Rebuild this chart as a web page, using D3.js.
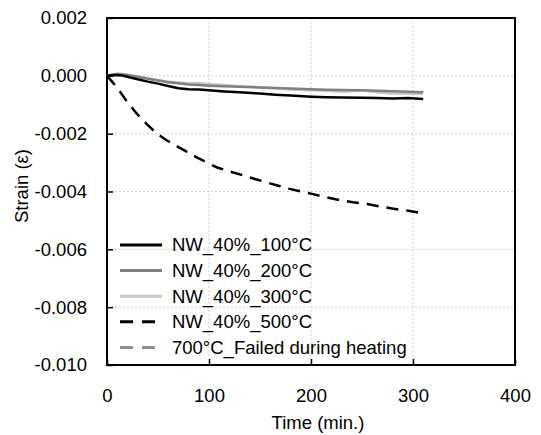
<!DOCTYPE html>
<html>
<head>
<meta charset="utf-8">
<script src="https://cdn.jsdelivr.net/npm/d3@7"></script>
<style>
  body { margin: 0; background: #fff; }
  svg text { font-family: "Liberation Sans", Arial, sans-serif; fill: #000; }
</style>
</head>
<body>
<svg id="chart" width="541" height="435"></svg>
<script>
// data (time in min., strain)
var time100 = [0, 5, 10, 15, 20, 30, 40, 50, 60, 70, 80, 90, 100, 115, 130, 150, 165, 180, 200, 215, 230, 250, 265, 280, 295, 310];
var strain100 = [0, 0.00002, 0.00003, 0.00001, -0.00003, -0.00012, -0.0002, -0.00027, -0.00035, -0.00043, -0.00046, -0.00047, -0.0005, -0.00054, -0.00057, -0.00061, -0.00065, -0.00068, -0.00072, -0.00074, -0.00075, -0.00076, -0.00077, -0.00078, -0.00077, -0.0008];

var time200 = [0, 5, 10, 15, 20, 30, 40, 50, 60, 70, 80, 90, 100, 115, 130, 150, 165, 180, 200, 215, 230, 250, 265, 280, 295, 310];
var strain200 = [0, 0.00004, 0.00006, 0.00005, 0.00003, -0.00003, -0.0001, -0.00016, -0.00022, -0.00026, -0.0003, -0.00032, -0.00034, -0.00036, -0.00038, -0.0004, -0.00042, -0.00044, -0.00046, -0.00048, -0.00049, -0.0005, -0.00052, -0.00053, -0.00055, -0.00057];

var time300 = [0, 5, 10, 15, 20, 30, 40, 50, 60, 70, 80, 90, 100, 115, 130, 150, 165, 180, 200, 215, 230, 250, 265, 280, 295, 310];
var strain300 = [0, 0.00005, 0.00007, 0.00006, 0.00004, -0.00002, -0.00008, -0.00014, -0.0002, -0.00023, -0.00026, -0.00025, -0.00028, -0.00032, -0.00036, -0.0004, -0.00043, -0.00047, -0.0005, -0.00052, -0.00055, -0.0005, -0.00058, -0.00061, -0.00062, -0.00063];

var time500 = [0, 5, 11, 19, 29, 39, 49, 58, 68, 78, 88, 98, 108, 120, 134, 145, 157, 168, 179, 190, 202, 215, 228, 241, 255, 268, 281, 294, 307, 312];
var strain500 = [0, -0.0002, -0.00046, -0.00086, -0.0013, -0.00167, -0.002, -0.00222, -0.00242, -0.00262, -0.00282, -0.003, -0.00317, -0.0033, -0.00345, -0.00357, -0.00369, -0.0038, -0.00391, -0.004, -0.00409, -0.0042, -0.0043, -0.00437, -0.00443, -0.00452, -0.0046, -0.00466, -0.00474, -0.00477];

var seriesNames = ["NW_40%_100°C", "NW_40%_200°C", "NW_40%_300°C", "NW_40%_500°C", "700°C_Failed during heating"];
var xTicks = [0, 100, 200, 300, 400];
var yTicks = [0.002, 0, -0.002, -0.004, -0.006, -0.008, -0.010];

var series = [
  {name: seriesNames[0], t: time100, s: strain100, color: "#000000", dash: null},
  {name: seriesNames[1], t: time200, s: strain200, color: "#808080", dash: null},
  {name: seriesNames[2], t: time300, s: strain300, color: "#c8c8c8", dash: null},
  {name: seriesNames[3], t: time500, s: strain500, color: "#000000", dash: "12,8"},
  {name: seriesNames[4], t: [], s: [], color: "#909090", dash: "12,8"}
];

var svg = d3.select("#chart");
var margin = {top: 18, right: 26, bottom: 70, left: 107};
var width = 541 - margin.left - margin.right,
    height = 435 - margin.top - margin.bottom;

var g = svg.append("g").attr("transform", "translate(" + margin.left + "," + margin.top + ")");

var x = d3.scaleLinear().domain([0, 400]).range([0, width]);
var y = d3.scaleLinear().domain([-0.010, 0.002]).range([height, 0]);

// dotted grid
g.append("g").selectAll("line").data(yTicks.filter(function(d){ return d > -0.010 && d < 0.002; }))
  .enter().append("line")
  .attr("x1", 0).attr("x2", width)
  .attr("y1", function(d){ return y(d); }).attr("y2", function(d){ return y(d); })
  .attr("stroke", "#cfcfcf").attr("stroke-dasharray", "2,2");
g.append("g").selectAll("line").data(xTicks.filter(function(d){ return d > 0 && d < 400; }))
  .enter().append("line")
  .attr("y1", 0).attr("y2", height)
  .attr("x1", function(d){ return x(d); }).attr("x2", function(d){ return x(d); })
  .attr("stroke", "#cfcfcf").attr("stroke-dasharray", "2,2");

// axes with inner ticks
var xAxis = d3.axisBottom(x).tickValues(xTicks).tickSize(-6).tickPadding(24).tickFormat(d3.format("d"));
var yAxis = d3.axisLeft(y).tickValues(yTicks).tickSize(-6).tickPadding(20).tickFormat(d3.format(".3f"));

var gx = g.append("g").attr("transform", "translate(0," + height + ")").call(xAxis);
var gy = g.append("g").call(yAxis);
[gx, gy].forEach(function(a){
  a.select(".domain").remove();
  a.selectAll(".tick line").attr("stroke", "#000").attr("stroke-width", 1.5);
  a.selectAll("text").attr("font-size", "18.5px").attr("font-family", "Liberation Sans, Arial, sans-serif");
});
gy.selectAll("text").text(function(d){ return d3.format(".3f")(d).replace("−", "-"); });

// frame
g.append("rect").attr("width", width).attr("height", height)
  .attr("fill", "none").attr("stroke", "#000").attr("stroke-width", 2);

var line = d3.line()
  .x(function(d){ return x(d[0]); })
  .y(function(d){ return y(d[1]); });

// draw light series first so the dark ones are on top
[2, 1, 0, 3].forEach(function(i){
  var sr = series[i];
  var pts = d3.zip(sr.t, sr.s);
  g.append("path").datum(pts)
    .attr("d", line)
    .attr("fill", "none")
    .attr("stroke", sr.color)
    .attr("stroke-width", 2.5)
    .attr("stroke-dasharray", sr.dash);
});

// legend
var legend = g.append("g").attr("transform", "translate(13," + (245 - margin.top) + ")");
var items = legend.selectAll("g").data(series).enter().append("g")
  .attr("transform", function(d, i){ return "translate(0," + (i * 25.6) + ")"; });
items.append("line")
  .attr("x1", 0).attr("x2", 42).attr("y1", 0).attr("y2", 0)
  .attr("stroke", function(d){ return d.color; })
  .attr("stroke-width", 3)
  .attr("stroke-dasharray", function(d){ return d.dash ? "13,9" : null; });
items.append("text")
  .attr("x", 52).attr("y", 0).attr("dy", "0.35em")
  .attr("font-size", "18.5px")
  .text(function(d){ return d.name; });

// axis titles
svg.append("text")
  .attr("x", margin.left + width / 2 + 7).attr("y", 429)
  .attr("text-anchor", "middle").attr("font-size", "18.5px")
  .text("Time (min.)");
svg.append("text")
  .attr("transform", "translate(28,186) rotate(-90)")
  .attr("text-anchor", "middle").attr("font-size", "18.5px")
  .text("Strain (ε)");
</script>
</body>
</html>
